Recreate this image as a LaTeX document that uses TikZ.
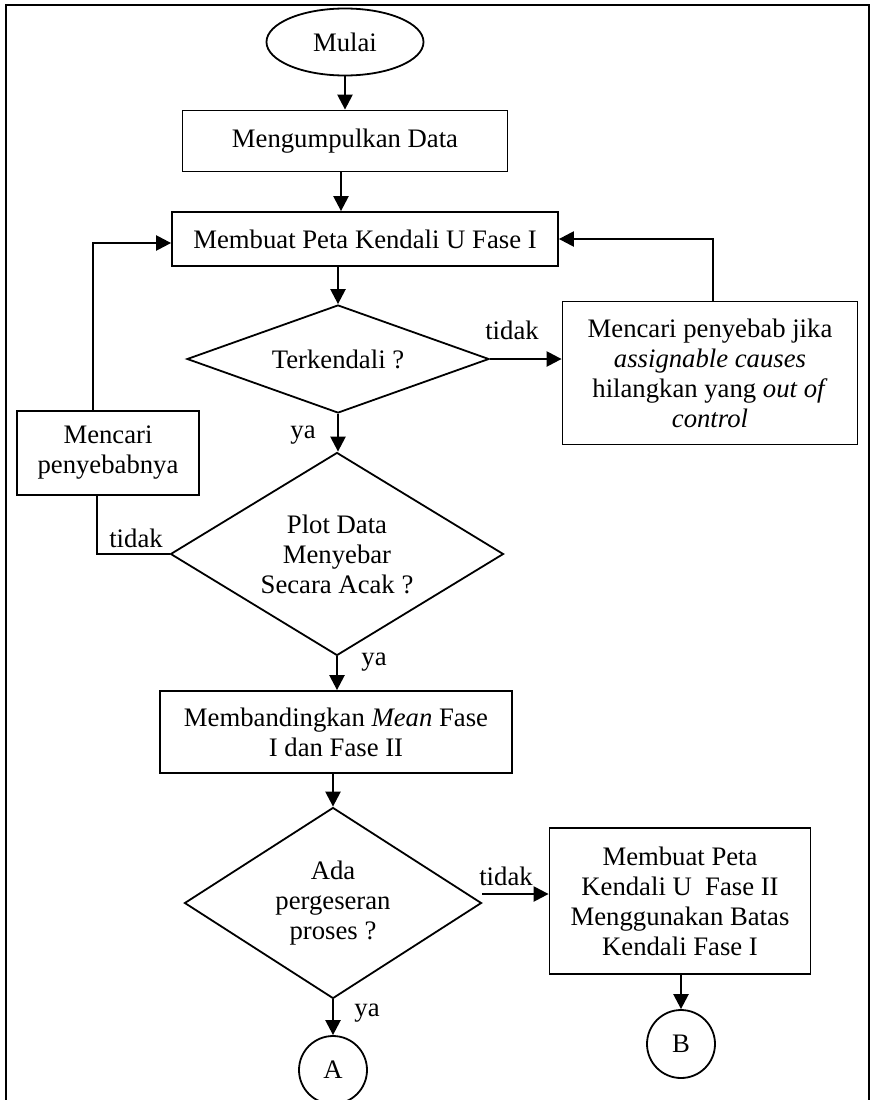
\documentclass[tikz,border=0pt]{standalone}
\usepackage{fontspec}
\setmainfont{Liberation Serif}
\usetikzlibrary{shapes.geometric,arrows.meta,calc}
\begin{document}
\begin{tikzpicture}[x=1pt,y=-1pt,
  every node/.style={font=\fontsize{26.7}{30}\selectfont},
  box/.style={draw,line width=1.8pt,align=center,inner sep=0pt},
  dec/.style={draw,diamond,line width=1.8pt,align=center,inner sep=0pt},
  term/.style={draw,ellipse,line width=1.8pt,inner sep=0pt},
  conn/.style={draw,circle,line width=1.8pt,inner sep=0pt,minimum size=68pt},
  arr/.style={line width=2.4pt,-{Triangle[length=15pt,width=15pt]}},
  ln/.style={line width=1.8pt},
  lbl/.style={inner sep=0pt}]
\useasboundingbox (0,0) rectangle (872,1100);
\clip (0,0) rectangle (872,1100);
\draw[line width=2pt] (6,5) rectangle (869,1130);

\node[term,minimum width=157pt,minimum height=67pt] (start) at (345,42) {Mulai};
\node[box,minimum width=325pt,minimum height=61pt] (collect) at (345,141) {Mengumpulkan Data};
\node[box,minimum width=386pt,minimum height=54pt] (peta1) at (365,239) {Membuat Peta Kendali U Fase I};
\node[dec,aspect=2.8,minimum width=302pt,minimum height=108pt] (d1) at (338,359) {Terkendali ?};
\node[box,minimum width=295pt,minimum height=143pt] (cause) at (710,373) {Mencari penyebab jika\\\textit{assignable causes}\\hilangkan yang \textit{out of}\\\textit{control}};
\node[box,minimum width=182pt,minimum height=84pt] (cari) at (108,453) {Mencari\\penyebabnya};
\node[dec,aspect=1.64,minimum width=333pt,minimum height=203pt] (d2) at (337,554) {Plot Data\\Menyebar\\Secara Acak ?};
\node[box,minimum width=352pt,minimum height=82pt] (banding) at (336,732) {Membandingkan \textit{Mean} Fase\\I dan Fase II};
\node[dec,aspect=1.55,minimum width=297pt,minimum height=191pt] (d3) at (333,903) {Ada\\pergeseran\\proses ?};
\node[box,minimum width=261pt,minimum height=146pt] (peta2) at (680,901) {Membuat Peta\\Kendali U\ \ Fase II\\Menggunakan Batas\\Kendali Fase I};
\node[conn] (A) at (333,1070) {A};
\node[conn] (B) at (681,1044) {B};

\draw[arr] (start) -- (collect);
\draw[arr] ([xshift=-4pt]collect.south) -- ([xshift=-4pt]collect.south |- peta1.north);
\draw[arr] (peta1.south -| d1.north) -- (d1.north);
\draw[arr] (d1.east) -- (d1.east -| cause.west);
\draw[arr] ([xshift=3pt]cause.north) |- (peta1.east);
\draw[arr] ([xshift=-15pt]cari.north) |- ([yshift=-4pt]peta1.west);
\draw[arr] (d1.south) -- (d1.south |- d2.north);
\draw[ln] ([xshift=-11pt]cari.south) |- (d2.west);
\draw[arr] (d2.south) -- (d2.south |- banding.north);
\draw[arr] (d3.north |- banding.south) -- (d3.north);
\draw[arr] ([yshift=9pt]d3.east) -- ([yshift=9pt]d3.east -| peta2.west);
\draw[arr] (d3.south) -- (A.north);
\draw[arr] (peta2.south -| B.north) -- (B.north);

\node[lbl] (t1) at (512,330) {tidak};
\node[lbl] (y1) at (303,435) {ya};
\node[lbl] (t2) at (136,538) {tidak};
\node[lbl] (y2) at (374,662) {ya};
\node[lbl] (t3) at (506,876) {tidak};
\node[lbl] (y3) at (367,1013) {ya};
\end{tikzpicture}
\end{document}
